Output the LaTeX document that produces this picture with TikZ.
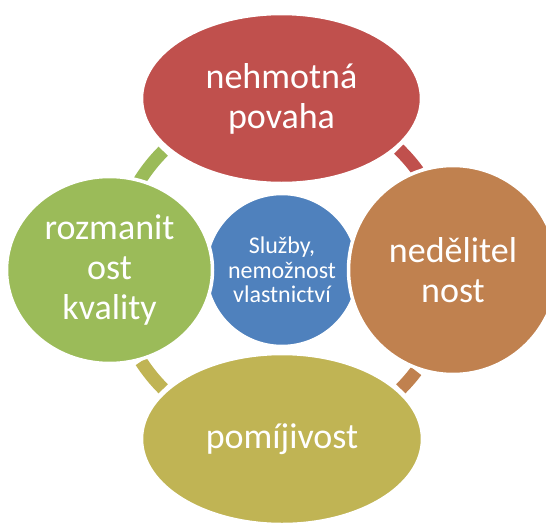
\documentclass[tikz,border=0pt]{standalone}
\usepackage{fontspec}
\setmainfont{Carlito}
\usetikzlibrary{shapes.geometric}
\definecolor{hubblue}{HTML}{4F81BD}
\definecolor{petred}{HTML}{C0504D}
\definecolor{petorange}{HTML}{C0814F}
\definecolor{petolive}{HTML}{C0B454}
\definecolor{petgreen}{HTML}{9BBB59}

\begin{document}
\begin{tikzpicture}[x=1pt, y=1pt,
    petal/.style={ellipse, draw=white, line width=3.5pt, inner sep=0pt, text=white, align=center, font=\fontsize{36}{40}\selectfont},
    link/.style={line width=13pt}
]
    \useasboundingbox (0,0) rectangle (546,-525);

    % hub in the middle
    \node[petal, fill=hubblue, minimum size=153pt, font=\fontsize{24}{24.5}\selectfont] (hub) at (282,-270) {Služby,\\nemožnost\\vlastnictví};

    % ring pieces between the petals
    \draw[link, petgreen]  ([shift={(135:168pt)}]hub.center) arc[start angle=135, end angle=148, radius=168pt];
    \draw[link, petred]    ([shift={(36:168pt)}]hub.center) arc[start angle=36, end angle=46, radius=168pt];
    \draw[link, petorange] ([shift={(-45:168pt)}]hub.center) arc[start angle=-45, end angle=-37, radius=168pt];
    \draw[link, petolive]  ([shift={(213:168pt)}]hub.center) arc[start angle=213, end angle=225, radius=168pt];

    % petals
    \node[petal, fill=petred, minimum width=280pt, minimum height=170pt] (nehm) at (281.5,-98.5) {nehmotná\\povaha};
    \node[petal, fill=petorange, minimum size=209pt] (nedel) at (453,-270) {nedělitel\\nost};
    \node[petal, fill=petolive, minimum width=281pt, minimum height=171pt] (pomij) at (282,-439) {pomíjivost};
    \node[petal, fill=petgreen, minimum width=206pt, minimum height=187pt] (rozm) at (109.5,-270) {rozmanit\\ost\\kvality};
\end{tikzpicture}
\end{document}
